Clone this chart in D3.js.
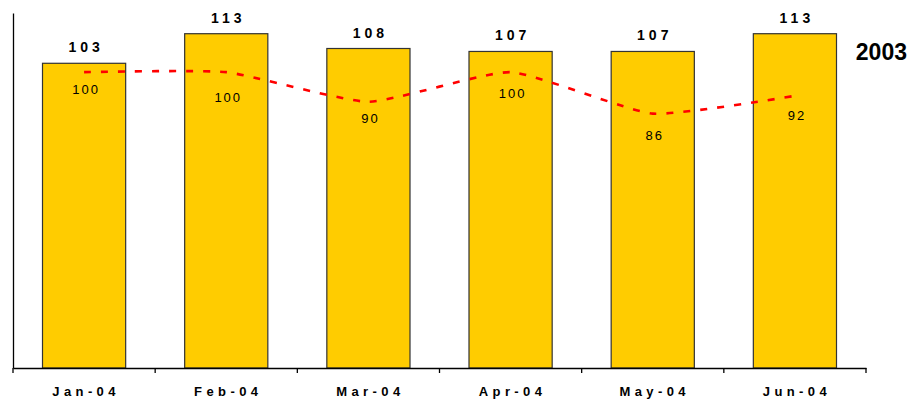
<!DOCTYPE html>
<html>
<head>
<meta charset="utf-8">
<script src="https://cdn.jsdelivr.net/npm/d3@7"></script>
<style>
  body { margin: 0; background: #fff; }
  text { font-family: Arial, "Liberation Sans", sans-serif; fill: #000; }
</style>
</head>
<body>
<svg id="chart" width="909" height="400"></svg>
<script>
var months = ['Jan-04', 'Feb-04', 'Mar-04', 'Apr-04', 'May-04', 'Jun-04'];
var values2004 = [103, 113, 108, 107, 107, 113];
var values2003 = [100, 100, 90, 100, 86, 92];
var seriesLabel = '2003';

// excel put the line labels at slightly different distances below the points
var lineLabelDy = [17, 25, 16, 21, 21, 19];

var svg = d3.select('#chart');

var x = d3.scaleBand().domain(months).range([13, 866]).padding(0);
var y = d3.scaleLinear().domain([0, 120]).range([368, 13]);

var barWidth = x.bandwidth() * 0.585;
var barOffset = (x.bandwidth() - barWidth) / 2;

function center(m) {
  return x(m) + x.bandwidth() / 2;
}

// bars
svg.append('g').selectAll('rect')
  .data(months)
  .enter().append('rect')
    .attr('x', function(m) { return x(m) + barOffset; })
    .attr('y', function(m, i) { return y(values2004[i]); })
    .attr('width', barWidth)
    .attr('height', function(m, i) { return y(0) - y(values2004[i]); })
    .attr('fill', '#FFCC00')
    .attr('stroke', '#333')
    .attr('stroke-width', 1.2);

// bar labels
svg.append('g').selectAll('text')
  .data(months)
  .enter().append('text')
    .attr('x', function(m) { return center(m) + 2; })
    .attr('y', function(m, i) { return y(values2004[i]) - 11; })
    .attr('text-anchor', 'middle')
    .style('font-size', '14px')
    .style('font-weight', 'bold')
    .style('letter-spacing', '4px')
    .text(function(m, i) { return values2004[i]; });

// 2003 line
var line = d3.line()
  .x(function(d) { return center(d.month); })
  .y(function(d) { return y(d.value); })
  .curve(d3.curveCardinal.tension(0.5));

var linePoints = months.map(function(m, i) {
  return {month: m, value: values2003[i]};
});

svg.append('path')
  .datum(linePoints)
  .attr('d', line)
  .attr('fill', 'none')
  .attr('stroke', '#FF0000')
  .attr('stroke-width', 2.6)
  .attr('stroke-dasharray', '7,10');

svg.append('g').selectAll('text')
  .data(linePoints)
  .enter().append('text')
    .attr('x', function(d) { return center(d.month) + 2; })
    .attr('y', function(d, i) { return y(d.value) + lineLabelDy[i] + 5; })
    .attr('text-anchor', 'middle')
    .style('font-size', '13px')
    .style('letter-spacing', '2px')
    .text(function(d) { return d.value; });

// axes
var xAxis = d3.axisBottom(x).tickSize(0).tickFormat('');
var gx = svg.append('g').attr('transform', 'translate(0,' + y(0) + ')').call(xAxis);
gx.select('.domain').attr('stroke', '#000').attr('stroke-width', 1.3);

svg.append('g').selectAll('line')
  .data(months.concat(['end']))
  .enter().append('line')
    .attr('x1', function(m, i) { return i < months.length ? x(m) : x.range()[1]; })
    .attr('x2', function(m, i) { return i < months.length ? x(m) : x.range()[1]; })
    .attr('y1', y(0))
    .attr('y2', y(0) + 5)
    .attr('stroke', '#000')
    .attr('stroke-width', 1.3);

svg.append('g').selectAll('text')
  .data(months)
  .enter().append('text')
    .attr('x', function(m) { return center(m) + 2; })
    .attr('y', 396)
    .attr('text-anchor', 'middle')
    .style('font-size', '13px')
    .style('font-weight', 'bold')
    .style('letter-spacing', '4.4px')
    .text(function(m) { return m; });

var gy = svg.append('g').attr('transform', 'translate(' + x.range()[0] + ',0)')
  .call(d3.axisLeft(y).ticks(0).tickSize(0).tickFormat(''));
gy.select('.domain').attr('stroke', '#000').attr('stroke-width', 1.3);

svg.append('text')
  .attr('x', 907)
  .attr('y', 60)
  .attr('text-anchor', 'end')
  .style('font-size', '23px')
  .style('font-weight', 'bold')
  .text(seriesLabel);
</script>
</body>
</html>
